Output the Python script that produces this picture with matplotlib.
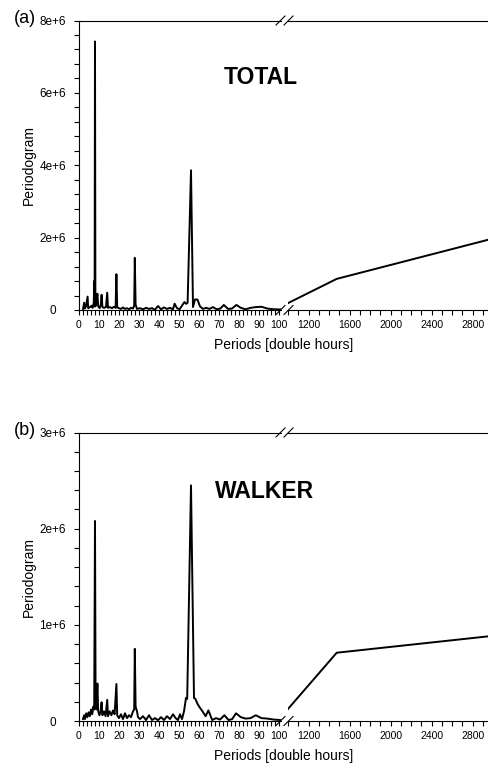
import numpy as np
import matplotlib.pyplot as plt
from matplotlib.ticker import MultipleLocator, FuncFormatter
from matplotlib.lines import Line2D

plt.rcParams['font.family'] = ['Liberation Sans', 'DejaVu Sans']

# (a) TOTAL periodogram: periods [double hours] and values
total_period = [2.0, 2.6, 2.9, 3.5, 4.3, 4.6, 5.5, 6.3, 6.8, 7.4, 7.6, 7.8, 8.0, 8.2,
                8.6, 9.2, 9.6, 10.3, 10.9, 11.3, 11.7, 12.5, 13.5, 14.1, 14.5, 15.5,
                16.5, 17.5, 18.3, 18.7, 19.1, 20.0, 21.0, 22.0, 23.0, 24.0, 25.0,
                26.0, 27.0, 27.6, 27.9, 28.3, 29.0, 30.5, 32.0, 33.5, 35.0, 36.5,
                38.0, 39.5, 41.0, 42.5, 44.0, 45.5, 47.0, 47.8, 49.0, 50.3, 51.5,
                52.7, 53.6, 54.3, 56.0, 57.0, 58.0, 59.2, 60.5, 62.0, 63.5, 65.2,
                67.0, 68.8, 70.7, 72.4, 74.5, 76.5, 78.7, 80.9, 83.3, 85.8, 88.4,
                91.2, 94.2, 97.3, 100.6, 983, 1475, 2950]
total_value = [3e4, 2.0e5, 4e4, 1.0e5, 3.7e5, 5e4, 8e4, 1.2e5, 6e4, 2e5, 8.0e5, 1e5, 7.42e6, 1e5,
               2e5, 4.5e5, 1e5, 5e4, 1.5e5, 4.2e5, 8e4, 6e4, 8e4, 4.8e5, 6e4, 8e4,
               5e4, 9e4, 6e4, 9.9e5, 7e4, 5e4, 3e4, 7e4, 3e4, 5e4, 2e4,
               6e4, 4e4, 1.2e5, 1.44e6, 1.5e5, 3e4, 5e4, 2e4, 6e4, 3e4, 5e4,
               1e4, 1.1e5, 2e4, 7e4, 3e4, 6e4, 2e4, 1.75e5, 5e4, 2e4, 1.2e5,
               2.2e5, 1.7e5, 2.0e5, 3.86e6, 8e4, 2.9e5, 2.9e5, 1e5, 3e4, 6e4, 3e4,
               8e4, 2e4, 4e4, 1.4e5, 3e4, 4e4, 1.4e5, 6e4, 2e4, 6e4, 8e4,
               9e4, 4e4, 2e4, 1.5e4, 1.66e5, 8.6e5, 1.94e6]

# (b) WALKER periodogram
walker_period = [2.0, 2.6, 3.0, 3.6, 4.2, 4.8, 5.4, 6.0, 6.6, 7.2, 7.6, 8.0, 8.3, 8.7,
                 9.2, 9.6, 10.2, 10.8, 11.3, 11.7, 12.5, 13.3, 14.1, 14.5, 15.3, 16.2,
                 17.0, 17.8, 18.7, 19.1, 20.0, 21.0, 22.0, 23.0, 24.0, 25.0, 26.0,
                 27.0, 27.6, 27.9, 28.3, 29.0, 29.5, 30.5, 32.0, 33.5, 35.0, 36.5,
                 38.0, 39.5, 41.0, 42.5, 44.0, 45.5, 47.0, 48.3, 49.5, 50.5, 51.5,
                 52.5, 53.5, 54.1, 56.0, 57.5, 58.2, 59.2, 60.4, 61.8, 63.3,
                 64.7, 66.6, 68.5, 70.5, 72.7, 74.8, 76.6, 78.5, 80.9, 83.3, 85.8,
                 88.4, 91.2, 94.2, 97.3, 100.6, 983, 1475, 2950]
walker_value = [2e4, 6e4, 2e4, 8e4, 4e4, 9e4, 5e4, 1.2e5, 7e4, 1.5e5, 1.2e5, 2.08e6, 1.5e5, 1.2e5,
                3.9e5, 1e5, 6e4, 1e5, 1.95e5, 6e4, 1e5, 5e4, 2.2e5, 5e4, 1e5, 6e4,
                1.1e5, 7e4, 3.85e5, 6e4, 3e4, 7e4, 2e4, 8e4, 3e4, 6e4, 4e4,
                1e5, 1.2e5, 7.5e5, 1.5e5, 1.0e5, 4e4, 2e4, 5e4, 1e4, 6e4, 1e4,
                3e4, 8e3, 4e4, 1e4, 5e4, 2e4, 7e4, 3e4, 1e4, 7e4, 2e4,
                1.0e5, 2.4e5, 2.3e5, 2.45e6, 2.4e5, 2.3e5, 1.8e5, 1.4e5, 1e5, 5e4,
                1.1e5, 1e4, 3e4, 1.5e4, 6e4, 1e4, 2e4, 8e4, 4e4, 2.5e4, 3e4,
                6e4, 3e4, 2.5e4, 1.5e4, 1e4, 1.04e5, 7.1e5, 8.8e5]

W, H = 488.0, 767.0
fig = plt.figure(figsize=(W / 100, H / 100), dpi=100)


def px_axes(x0, x1, ytop, ybot):
    return fig.add_axes([x0 / W, 1 - ybot / H, (x1 - x0) / W, (ybot - ytop) / H])


def sci(v, pos):
    if v == 0:
        return '0'
    e = int(np.floor(np.log10(abs(v)) + 1e-9))
    return f'{v / 10**e:g}e+{e}'


def slash(xc, yc):
    # short "/" break mark, given in pixels (y downwards)
    fig.add_artist(Line2D([(xc - 4.5) / W, (xc + 4.5) / W],
                          [1 - (yc + 4.5) / H, 1 - (yc - 4.5) / H],
                          transform=fig.transFigure, color='black', lw=0.8))


def draw_panel(ytop, ybot, periods, values, ymax, ymajor, yminor, tag, name, name_xy):
    axl = px_axes(79, 281, ytop, ybot)
    axr = px_axes(288, 488, ytop, ybot)
    for ax in (axl, axr):
        ax.plot(periods, values, color='black', lw=1.4)
        ax.set_ylim(0, ymax)
        ax.spines['right'].set_visible(False)
        for s in ('top', 'bottom', 'left'):
            ax.spines[s].set_linewidth(0.8)
        ax.tick_params(which='both', direction='out', length=3.5, width=0.8,
                       labelsize=7.5, top=False, right=False, pad=4)
    axl.set_xlim(0, 101)
    axl.xaxis.set_major_locator(MultipleLocator(10))
    axl.xaxis.set_minor_locator(MultipleLocator(2))
    axr.set_xlim(1000, 2950)
    axr.xaxis.set_major_locator(MultipleLocator(400))
    axr.xaxis.set_minor_locator(MultipleLocator(100))
    axr.spines['left'].set_visible(False)
    axr.tick_params(axis='y', which='both', left=False, labelleft=False)

    axl.yaxis.set_major_locator(MultipleLocator(ymajor))
    axl.yaxis.set_minor_locator(MultipleLocator(yminor))
    axl.yaxis.set_major_formatter(FuncFormatter(sci))
    axl.tick_params(axis='y', pad=15.5, labelsize=8.5)
    plt.setp(axl.yaxis.get_majorticklabels(), ha='center')

    for xc in (280.5, 288.5):
        slash(xc, ytop)
        slash(xc, ybot)

    yc = 1 - (ytop + ybot) / 2 / H
    fig.text(29 / W, yc, 'Periodogram', rotation=90, ha='center', va='center', fontsize=10)
    fig.text(283.5 / W, 1 - (ybot + 35) / H, 'Periods [double hours]',
             ha='center', va='center', fontsize=10)
    fig.text(25 / W, 1 - (ytop - 2) / H, tag, ha='center', va='center', fontsize=13)
    fig.text(name_xy[0] / W, 1 - name_xy[1] / H, name, ha='center', va='center',
             fontsize=16.5, fontweight='bold')


draw_panel(20.5, 310, total_period, total_value, 8e6, 2e6, 4e5, '(a)', 'TOTAL', (261, 77))
draw_panel(432.5, 721, walker_period, walker_value, 3e6, 1e6, 2e5, '(b)', 'WALKER', (265, 492))

fig.savefig('out.png', dpi=100)
